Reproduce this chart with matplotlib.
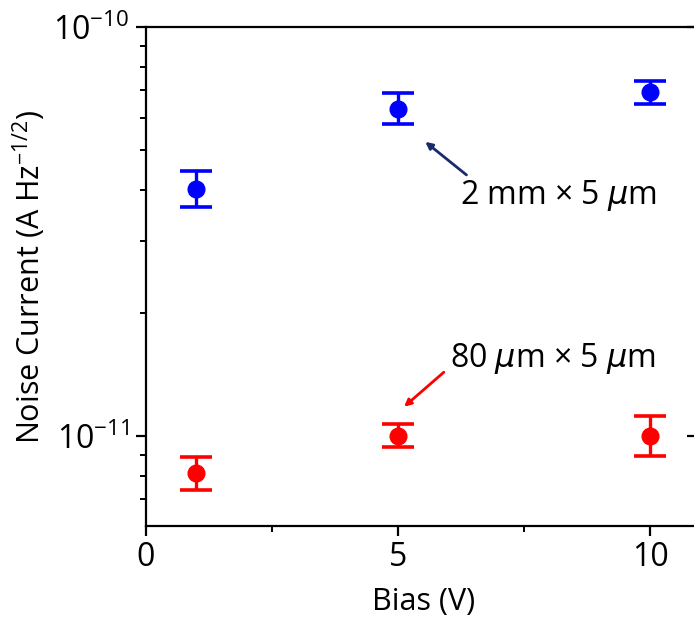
import matplotlib.pyplot as plt
from matplotlib.ticker import LogLocator, FuncFormatter, NullFormatter
import math

plt.rcParams['font.family'] = ['Open Sans', 'DejaVu Sans']
plt.rcParams['mathtext.fontset'] = 'custom'
plt.rcParams['mathtext.rm'] = 'Open Sans'
plt.rcParams['mathtext.it'] = 'DejaVu Sans:italic'

# Data
bias = [1, 5, 10]
large_noise = [4.01e-11, 6.29e-11, 6.95e-11]
large_hi = [4.45e-11, 6.89e-11, 7.39e-11]
large_lo = [3.64e-11, 5.78e-11, 6.47e-11]
small_noise = [8.13e-12, 1.0e-11, 1.0e-11]
small_hi = [8.90e-12, 1.07e-11, 1.12e-11]
small_lo = [7.38e-12, 9.38e-12, 8.94e-12]

fig = plt.figure(figsize=(6.94, 6.23), dpi=100)
ax = fig.add_axes([0.2104, 0.1557, 0.799, 0.801])


def err(vals, lo, hi):
    return [[v - l for v, l in zip(vals, lo)], [h - v for v, h in zip(vals, hi)]]


ax.errorbar(bias, large_noise, yerr=err(large_noise, large_lo, large_hi), fmt='o',
            color='#0000ff', ms=12, elinewidth=2.4, capsize=11.5, capthick=2.6)
ax.errorbar(bias, small_noise, yerr=err(small_noise, small_lo, small_hi), fmt='o',
            color='#ff0000', ms=12, elinewidth=2.4, capsize=11.5, capthick=2.6)

ax.set_yscale('log')
ax.set_ylim(6.03e-12, 1e-10)
ax.set_xlim(0, 11)
ax.set_xticks([0, 5, 10])
ax.set_xticks([2.5, 7.5], minor=True)
ax.yaxis.set_major_locator(LogLocator(base=10, numticks=5))
ax.yaxis.set_minor_locator(LogLocator(base=10, subs=range(2, 10), numticks=20))


def pow_fmt(v, pos):
    e = int(round(math.log10(v)))
    return '10$^{\\mathregular{-%d}}$' % abs(e) if e < 0 else '10$^{%d}$' % e


ax.yaxis.set_major_formatter(FuncFormatter(pow_fmt))
ax.yaxis.set_minor_formatter(NullFormatter())

for s in ax.spines.values():
    s.set_linewidth(1.6)
ax.tick_params(axis='both', which='major', direction='out', length=7, width=1.6,
               labelsize=23)
ax.tick_params(axis='both', which='minor', direction='out', length=4, width=1.4)
ax.tick_params(axis='y', which='major', right=True, labelright=False, pad=5)
ax.yaxis.set_tick_params(which='minor', right=False)
for t in ax.yaxis.get_major_ticks():
    t.tick2line.set_marker(0)
    t.tick2line.set_markersize(10)

ax.set_xlabel('Bias (V)', fontsize=22, labelpad=10)
ax.set_ylabel('Noise Current (A Hz$^{\\mathregular{-1/2}}$)', fontsize=22, labelpad=4)

ax.annotate('2 mm $\\times$ 5 $\\mu$m', xy=(5.54, 5.24e-11), xytext=(6.23, 3.88e-11),
            fontsize=23, ha='left', va='center',
            arrowprops=dict(arrowstyle='-|>', color='#1a2b6b', lw=2,
                            shrinkA=0, shrinkB=0, mutation_scale=10,
                            relpos=(0.05, 1.0)))
ax.annotate('80 $\\mu$m $\\times$ 5 $\\mu$m', xy=(5.12, 1.18e-11), xytext=(6.03, 1.55e-11),
            fontsize=23, ha='left', va='center',
            arrowprops=dict(arrowstyle='-|>', color='#ff0000', lw=2,
                            shrinkA=0, shrinkB=0, mutation_scale=10,
                            relpos=(-0.03, 0.1)))

fig.savefig('out.png', dpi=100)
